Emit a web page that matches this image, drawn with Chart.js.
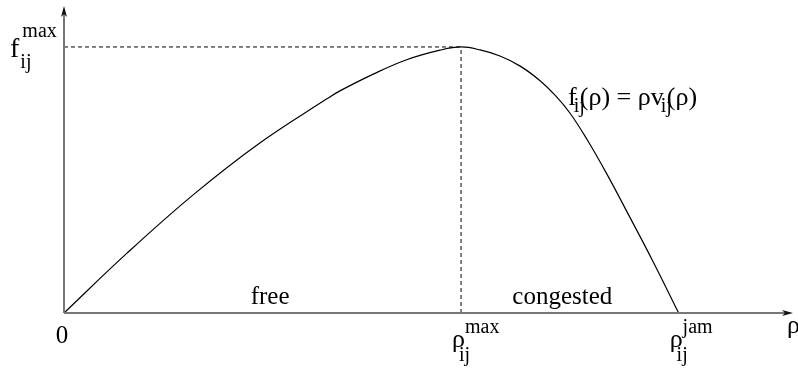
<!DOCTYPE html>
<html>
<head>
<meta charset="utf-8">
<script src="https://cdn.jsdelivr.net/npm/chart.js@4/dist/chart.umd.min.js"></script>
<style>
  html, body { margin: 0; padding: 0; background: #fff; }
  canvas { display: block; }
</style>
</head>
<body>
<canvas id="flowChart" width="798" height="368"></canvas>
<script>
// density (rho) and flow f(rho), rho_max = 1, f_max = 1
const rho  = [0, 0.158, 0.326, 0.494, 0.662, 0.695, 0.779, 0.863, 0.947, 1.0,
              1.048, 1.098, 1.149, 1.199, 1.239, 1.275, 1.317, 1.367, 1.417, 1.484, 1.548];
const flow = [0, 0.224, 0.445, 0.640, 0.805, 0.835, 0.898, 0.952, 0.988, 1.0,
              0.989, 0.966, 0.928, 0.873, 0.815, 0.750, 0.653, 0.523, 0.383, 0.192, 0];

const rhoMax = 1.0;
const rhoJam = 1.548;
const fMax = 1.0;

const xTicks   = [0, rhoMax, rhoJam];
const xTickTxt = ["0", "ρ", "ρ"];
const xTickSub = ["", "ij", "ij"];
const xTickSup = ["", "max", "jam"];

const yTickTxt = "f";
const yTickSub = "ij";
const yTickSup = "max";

const axisName = "ρ";
const regionLabels = ["free", "congested"];
const regionCenters = [0.519, 1.255];

const FONT = "\"Liberation Serif\", serif";

const ctx = document.getElementById("flowChart");

// draw base text with a sub- and superscript, left edge at x, baseline y
function drawScripted(c, x, y, base, sub, sup, opt) {
  c.font = opt.size + "px " + FONT;
  c.fillText(base, x, y);
  const w = c.measureText(base).width;
  c.font = opt.small + "px " + FONT;
  if (sub) c.fillText(sub, x + w + opt.subDx, y + opt.subDy);
  if (sup) c.fillText(sup, x + w + opt.supDx, y + opt.supDy);
}

const axesPlugin = {
  id: "axesPlugin",
  afterDatasetsDraw(chart) {
    const c = chart.ctx;
    const a = chart.chartArea;
    const xs = chart.scales.x;
    const ys = chart.scales.y;
    const x0 = xs.getPixelForValue(0);
    const y0 = ys.getPixelForValue(0);

    c.save();
    c.strokeStyle = "#777";
    c.lineWidth = 2;
    c.beginPath();
    c.moveTo(x0, y0);
    c.lineTo(a.right - 6, y0);
    c.moveTo(x0, y0);
    c.lineTo(x0, a.top + 6);
    c.stroke();

    c.fillStyle = "#111";
    // x arrow
    c.beginPath();
    c.moveTo(a.right, y0);
    c.lineTo(a.right - 11, y0 - 3);
    c.lineTo(a.right - 8, y0);
    c.lineTo(a.right - 11, y0 + 3);
    c.closePath();
    c.fill();
    // y arrow
    c.beginPath();
    c.moveTo(x0, a.top);
    c.lineTo(x0 - 3, a.top + 11);
    c.lineTo(x0, a.top + 8);
    c.lineTo(x0 + 3, a.top + 11);
    c.closePath();
    c.fill();

    c.fillStyle = "#000";
    c.textBaseline = "alphabetic";
    c.textAlign = "left";

    // x tick labels
    xTicks.forEach((v, i) => {
      const px = xs.getPixelForValue(v);
      if (!xTickSub[i]) {
        c.font = "25px " + FONT;
        c.textAlign = "center";
        c.fillText(xTickTxt[i], px - 2, y0 + 30);
        c.textAlign = "left";
      } else {
        drawScripted(c, px - 9, y0 + 34, xTickTxt[i], xTickSub[i], xTickSup[i],
          { size: 26, small: 20, subDx: -6, subDy: 14, supDx: 0, supDy: -14 });
      }
    });

    // y tick label
    const py = ys.getPixelForValue(fMax);
    drawScripted(c, 10, py + 10, yTickTxt, yTickSub, yTickSup,
      { size: 28, small: 20, subDx: 1, subDy: 11, supDx: 3, supDy: -20 });

    // axis name
    c.font = "26px " + FONT;
    c.fillText(axisName, a.right - 6, y0 + 20);

    // region labels
    c.font = "25px " + FONT;
    c.textAlign = "center";
    regionLabels.forEach((t, i) => {
      c.fillText(t, xs.getPixelForValue(regionCenters[i]), y0 - 9);
    });

    // curve formula
    c.textAlign = "left";
    let x = 568, y = 105;
    const parts = [
      ["f", 0, 26], ["ij", 7, 20], ["(ρ) = ρv", 0, 26], ["ij", 7, 20], ["(ρ)", 0, 26]
    ];
    parts.forEach(([t, dy, s]) => {
      c.font = s + "px " + FONT;
      const dx = s < 26 ? -3 : 0;
      c.fillText(t, x + dx, y + dy);
      x += c.measureText(t).width + (s < 26 ? -8 : 0);
    });
    c.restore();
  }
};

new Chart(ctx, {
  type: "scatter",
  data: {
    datasets: [
      {
        data: rho.map((r, i) => ({ x: r, y: flow[i] })),
        showLine: true,
        borderColor: "#000",
        borderWidth: 1.2,
        pointRadius: 0,
        tension: 0.4
      },
      {
        data: [{ x: 0, y: fMax }, { x: rhoMax, y: fMax }],
        showLine: true,
        borderColor: "#000",
        borderWidth: 1,
        borderDash: [4, 3],
        pointRadius: 0
      },
      {
        data: [{ x: rhoMax, y: 0 }, { x: rhoMax, y: fMax }],
        showLine: true,
        borderColor: "#000",
        borderWidth: 1,
        borderDash: [4, 3],
        pointRadius: 0
      }
    ]
  },
  options: {
    responsive: false,
    animation: false,
    layout: { padding: { left: 64, right: 5, top: 6, bottom: 55 } },
    plugins: {
      legend: { display: false },
      tooltip: { enabled: false }
    },
    scales: {
      x: { type: "linear", min: 0, max: 1.836, display: false },
      y: { type: "linear", min: 0, max: 1.154, display: false }
    }
  },
  plugins: [axesPlugin]
});
</script>
</body>
</html>
